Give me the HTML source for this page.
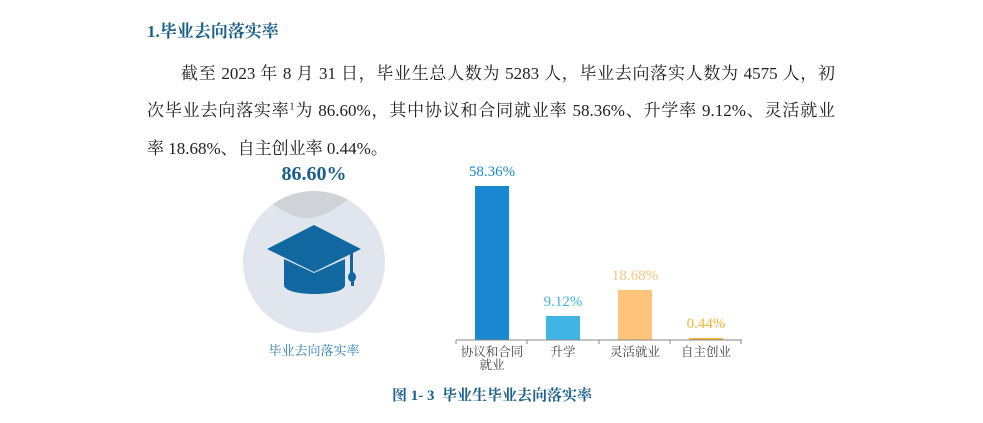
<!DOCTYPE html>
<html><head><meta charset="utf-8"><style>
body{margin:0;width:983px;height:423px;background:#fff;position:relative;overflow:hidden;font-family:"Liberation Serif","Noto Serif CJK SC",serif;}
.a{position:absolute;white-space:nowrap}
.ln{position:absolute;left:147px;width:688px;font-size:17px;color:#222;text-align:justify;text-align-last:justify;white-space:nowrap}
.lb{position:absolute;font-size:12.5px;color:#444;text-align:center;width:70px;line-height:13px}
</style></head><body>
<div class="a" style="left:147px;top:17px;font-size:17px;font-weight:bold;color:#1b5f8c">1.毕业去向落实率</div>
<div class="ln" style="top:59px;left:181px;width:654px">截至 2023 年 8 月 31 日，毕业生总人数为 5283 人，毕业去向落实人数为 4575 人，初</div>
<div class="ln" style="top:96px">次毕业去向落实率<sup style="font-size:10px">1</sup>为 86.60%，其中协议和合同就业率 58.36%、升学率 9.12%、灵活就业</div>
<div class="ln" style="top:134px;text-align-last:left;width:auto">率 18.68%、自主创业率 0.44%。</div>
<div class="a" style="left:269px;top:163px;font-size:20px;font-weight:bold;color:#1b5f8c;width:90px;text-align:center">86.60%</div>
<svg class="a" style="left:0;top:0" width="983" height="423">
<defs><clipPath id="c"><circle cx="314" cy="262" r="71"/></clipPath></defs>
<circle cx="314" cy="262" r="71" fill="#e1e6ee"/>
<path clip-path="url(#c)" d="M240 190 C270 196 285 220 310 218 C330 216 345 200 360 192 L360 180 L240 180Z" fill="#cfd2d6"/>
<polygon points="267,249 314,225 361,249 314,272" fill="#1168a0"/>
<path d="M284 259 L314 273 L345 259 L345 285 C345 297 284 297 284 285Z" fill="#1168a0"/>
<rect x="350" y="250" width="3" height="28" fill="#1168a0"/>
<ellipse cx="352" cy="277" rx="4" ry="5" fill="#1168a0"/>
<rect x="351" y="278" width="3" height="8" fill="#1168a0"/>
<rect x="475" y="186" width="34" height="154" fill="#1a88d0"/>
<rect x="546" y="316" width="34" height="24" fill="#41b4e6"/>
<rect x="618" y="290" width="34" height="50" fill="#fec47c"/>
<rect x="689" y="338" width="34" height="2" fill="#f4b43a"/>
<path d="M456 340 H742 M456 340 v4 M527 340 v4 M599 340 v4 M670 340 v4 M741 340 v4" stroke="#888" stroke-width="1" fill="none"/>
</svg>
<div class="a" style="left:462px;top:164px;font-size:15px;color:#1a88d0;width:60px;text-align:center">58.36%</div>
<div class="a" style="left:533px;top:294px;font-size:15px;color:#41b4e6;width:60px;text-align:center">9.12%</div>
<div class="a" style="left:605px;top:268px;font-size:15px;color:#fec47c;width:60px;text-align:center">18.68%</div>
<div class="a" style="left:676px;top:316px;font-size:15px;color:#f4b43a;width:60px;text-align:center">0.44%</div>
<div class="lb" style="left:457px;top:346px">协议和合同<br>就业</div>
<div class="lb" style="left:528px;top:346px">升学</div>
<div class="lb" style="left:600px;top:346px">灵活就业</div>
<div class="lb" style="left:671px;top:346px">自主创业</div>
<div class="a" style="left:254px;top:340px;font-size:13px;color:#2f7fb5;width:120px;text-align:center">毕业去向落实率</div>
<div class="a" style="left:392px;top:384px;font-size:15px;font-weight:bold;color:#1b5f8c">图 1- 3&nbsp; 毕业生毕业去向落实率</div>
</body></html>
